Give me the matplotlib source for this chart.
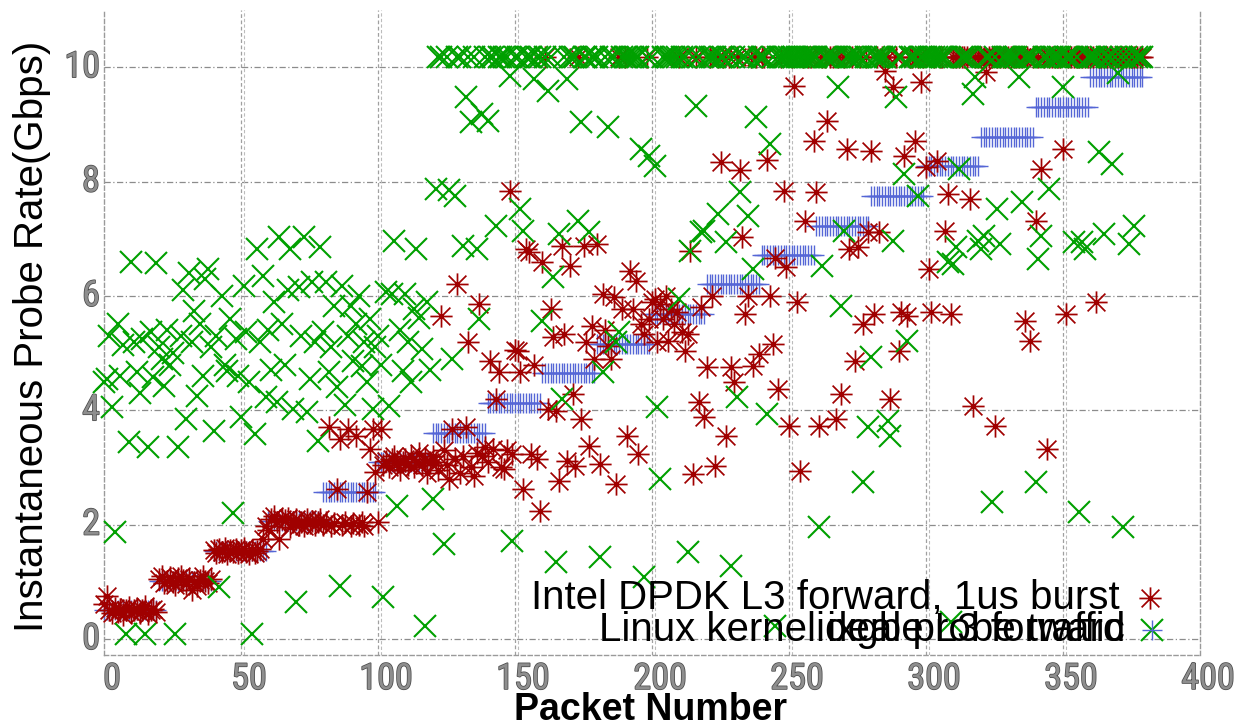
import numpy as np
import matplotlib
matplotlib.use("Agg")
import matplotlib.pyplot as plt
from matplotlib.path import Path
from matplotlib import transforms
import matplotlib.patheffects as pe

plt.rcParams['font.family'] = ['Liberation Sans', 'DejaVu Sans']

S = 10.17  # saturated (line-rate) reading

# probe trains: one sending rate (Gbps) per train of 20 packets
train_rates = [0.50, 1.02, 1.54, 2.06, 2.57, 3.09, 3.61, 4.13, 4.65, 5.16,
               5.68, 6.20, 6.72, 7.23, 7.75, 8.27, 8.78, 9.30, 9.82]
packets_per_train = 20

# Intel DPDK L3 forward, 1us burst: instantaneous rate per packet
dpdk_rate = [
    0.62, 0.75, 0.50, 0.45, 0.55, 0.48, 0.52, 0.42, 0.50, 0.56, 0.47, 0.50, 0.53, 0.45, 0.50, 0.58, 0.44, 0.50, 0.52, 0.48,
    1.05, 1.10, 0.98, 1.02, 1.08, 1.00, 0.95, 1.06, 1.10, 1.03, 0.97, 1.05, 0.85, 1.00, 0.93, 1.04, 1.10, 1.02, 0.98, 1.05,
    1.55, 1.50, 1.58, 1.52, 1.60, 1.48, 1.55, 1.53, 1.57, 1.50, 1.55, 1.60, 1.52, 1.48, 1.56, 1.50, 1.54, 1.58, 1.75, 1.98,
    1.90, 2.10, 2.15, 2.05, 1.75, 2.10, 2.08, 2.12, 1.95, 2.05, 2.10, 2.00, 2.05, 1.98, 2.10, 2.02, 2.06, 2.00, 2.04, 2.10,
    2.00, 2.05, 3.70, 1.98, 2.02, 2.62, 3.50, 2.00, 2.05, 3.67, 1.97, 2.03, 3.55, 2.00, 2.05, 1.98, 2.57, 3.32, 3.67, 2.92,
    2.05, 3.67, 3.05, 3.12, 3.00, 3.15, 3.20, 3.08, 2.95, 3.10, 3.15, 3.05, 3.20, 3.00, 3.10, 3.25, 3.05, 3.15, 2.90, 3.10,
    3.20, 3.10, 2.95, 5.65, 3.30, 3.05, 2.80, 3.67, 3.15, 6.20, 2.90, 3.20, 3.70, 5.20, 3.00, 2.85, 3.25, 5.86, 3.20, 3.35,
    3.10, 4.86, 3.32, 4.20, 4.67, 3.00, 2.97, 3.30, 7.83, 3.23, 5.05, 5.03, 4.67, 2.62, 6.82, 6.76, 3.23, 4.80, 3.15, 2.24,
    6.59, S,    4.02, 5.77, 5.28, 3.99, 2.76, 6.87, 5.33, 3.11, 6.52, 4.28, 3.02, S,    3.85, 6.87, 5.19, 3.38, 5.47, 4.90,
    6.90, 3.06, 6.03, 5.40, 5.12, 4.90, 5.98, 2.71, S,    5.77, S,    3.55, 6.43, 5.77, 6.26, 3.23, 5.50, 5.33, S,    5.60,
    5.90, 5.94, 5.19, 5.86, 5.60, 6.00, 5.21, 5.77, 5.50, 5.72, S,    5.37, 5.03, 5.33, 6.78, 2.88, S,    4.14, 5.80, 3.88,
    4.75, S,    6.00, 3.02, S,    8.34, S,    3.55, S,    4.75, 4.49, S,    8.20, 7.03, 5.68, 6.00, S,    4.78, S,    4.98,
    S,    S,    8.37, 6.00, 5.16, 6.66, 4.37, S,    7.83, 6.50, 3.72, S,    9.67, 5.89, 2.94, S,    7.31, S,    S,    8.71,
    7.81, 3.72, S,    S,    9.06, S,    S,    3.85, S,    4.28, S,    8.57, 6.82, S,    4.86, 6.85, S,    5.50, S,    7.11,
    8.53, 5.68, S,    7.11, S,    9.93, S,    4.20, 9.65, S,    5.03, 5.72, 8.45, 5.65, S,    S,    8.71, S,    9.74, S,
    8.25, 6.47, 5.72, S,    8.36, S,    S,    7.13, 7.78, 5.68, S,    S,    S,    S,    S,    S,    7.69, 4.07, S,    S,
    S,    S,    9.91, S,    S,    3.72, S,    S,    S,    S,    S,    S,    S,    S,    S,    S,    5.56, S,    5.21, S,
    7.31, S,    8.22, S,    3.32, S,    S,    S,    S,    S,    8.57, 5.68, S,    S,    S,    S,    S,    S,    S,    S,
    S,    S,    5.89, S,    S,    S,    S,    S,    S,    S,    S,    S,    S,    S,    S,    S,    S,    S,    S,    S,
]

# Linux kernel ixgbe L3 forward: instantaneous rate per packet
kernel_rate = [
    4.50, 4.55, 5.30, 4.06, 1.87, 5.50, 4.60, 5.15, 0.09, 3.44, 6.60, 5.20, 4.67, 4.30, 5.25, 0.09, 3.36, 5.37, 4.58, 6.57,
    5.10, 4.90, 4.43, 5.40, 4.80, 5.00, 0.09, 3.36, 5.30, 6.10, 3.85, 6.40, 5.20, 5.73, 4.25, 5.50, 4.60, 6.30, 6.47, 5.10,
    3.64, 5.30, 0.91, 6.00, 4.80, 4.69, 5.60, 2.20, 5.25, 4.60, 3.88, 6.17, 5.37, 4.50, 0.09, 3.58, 6.82, 5.20, 6.35, 4.23,
    5.40, 4.70, 5.90, 4.14, 7.03, 5.50, 4.80, 6.10, 6.82, 4.02, 0.64, 6.15, 5.30, 7.03, 3.97, 4.55, 6.24, 5.20, 3.46, 6.85,
    5.37, 6.24, 4.67, 5.10, 5.82, 4.40, 0.93, 6.17, 4.10, 5.30, 5.82, 4.86, 5.50, 6.00, 4.78, 5.20, 4.50, 5.60, 4.02, 5.10,
    5.30, 4.80, 0.73, 6.07, 4.07, 6.03, 6.96, 2.33, 5.40, 4.69, 6.03, 5.20, 4.49, 5.77, 6.82, 5.62, 5.07, 0.23, 5.90, 4.70,
    2.45, 7.87, S,    S,    1.66, S,    7.85, 4.90, 7.75, S,    S,    6.88, 9.48, S,    9.04, S,    6.82, 5.60, 9.18, S,
    9.06, S,    S,    7.23, S,    S,    S,    S,    9.85, 1.71, S,    S,    7.52, 7.14, S,    S,    S,    9.79, S,    S,
    5.56, S,    9.59, S,    6.33, 1.34, 7.08, 4.20, S,    9.79, S,    S,    S,    7.31, 9.04, S,    S,    7.11, S,    S,
    S,    1.43, 4.67, S,    8.95, S,    S,    5.19, 5.37, S,    S,    S,    S,    S,    S,    S,    8.57, 1.08, S,    8.45,
    S,    8.27, 4.06, 2.80, S,    S,    S,    S,    S,    S,    5.94, S,    S,    1.52, 6.79, S,    9.32, S,    7.11, 7.14,
    S,    S,    S,    S,    7.43, S,    S,    6.94, S,    1.28, S,    4.23, 7.81, S,    S,    7.40, S,    6.47, 9.13, S,
    S,    S,    3.93, 8.65, S,    0.23, S,    S,    S,    S,    S,    S,    S,    S,    S,    S,    S,    S,    S,    S,
    S,    1.96, 6.53, S,    S,    S,    S,    S,    9.65, 5.83, 7.14, S,    S,    S,    S,    S,    S,    2.74, S,    3.70,
    4.93, S,    S,    S,    S,    S,    3.81, 3.55, 6.96, 9.47, S,    S,    8.13, 5.22, S,    S,    S,    7.75, S,    S,
    S,    S,    S,    S,    S,    S,    S,    S,    6.60, 0.30, 6.55, 6.85, 8.22, S,    S,    S,    S,    9.53, 9.82, 6.96,
    6.82, 7.05, S,    S,    2.39, S,    7.52, 6.91, S,    S,    S,    S,    S,    S,    9.82, 7.64, S,    S,    S,    S,
    2.74, 6.64, 7.05, S,    S,    7.87, S,    S,    S,    S,    9.65, S,    S,    S,    6.94, S,    2.22, 6.94, 6.82, S,
    S,    S,    S,    8.51, S,    7.08, S,    S,    8.30, S,    9.90, S,    1.96, S,    6.91, S,    7.22, S,    S,    S,
]

x_ticks = [0, 50, 100, 150, 200, 250, 300, 350, 400]
y_ticks = [0, 2, 4, 6, 8, 10]
legend_labels = ["Intel DPDK L3 forward, 1us burst",
                 "Linux kernel ixgbe L3 forward",
                 "ideal probe traffic"]

RED = "#a00000"
GREEN = "#00a000"
BLUE = "#5566d6"
GRID = "#8c8c8c"

W, H = 1239, 721
fig = plt.figure(figsize=(W / 100, H / 100), dpi=100)
ax = fig.add_axes([104 / W, 1 - 655 / H, 1096 / W, 645 / H])

probe_rate = np.repeat(train_rates, packets_per_train)
pkt = np.arange(len(probe_rate))

M, L = Path.MOVETO, Path.LINETO
asterisk = Path([(-1, 0), (1, 0), (0, -1), (0, 1),
                 (-0.8, -0.8), (0.8, 0.8), (-0.8, 0.8), (0.8, -0.8)],
                [M, L] * 4)

ax.plot(pkt, probe_rate, ls="none", marker="+", ms=14.5, mew=1.0,
        color=BLUE, zorder=3, clip_on=False)
ax.plot(pkt, dpdk_rate, ls="none", marker=asterisk, ms=16, mew=1.25,
        mec=RED, mfc="none", zorder=4, clip_on=False)
ax.plot(pkt, kernel_rate, ls="none", marker="x", ms=16, mew=1.5,
        color=GREEN, zorder=5, clip_on=False)

ax.set_xlim(0, 400)
ax.set_ylim(-0.28, 11.0)

# grid
for yt in y_ticks:
    ax.axhline(yt, color=GRID, lw=0.9, dashes=(5, 2, 1, 2), zorder=1)
xgrid_tr = ax.get_xaxis_transform()
xgrid_tr2 = xgrid_tr + transforms.ScaledTranslation(3 / 100, 0, fig.dpi_scale_trans)
for xt in x_ticks[1:-1]:
    ax.plot([xt, xt], [0, 1], transform=xgrid_tr, color="#a0a0a0",
            lw=0.9, dashes=(3, 2), zorder=1)
    ax.plot([xt, xt], [0, 1], transform=xgrid_tr2, color="#bcbcbc",
            lw=0.8, dashes=(3, 2), zorder=1)

ax.spines["top"].set_visible(False)
for side in ("left", "bottom", "right"):
    ax.spines[side].set_color("#9a9a9a")
    ax.spines[side].set_linestyle((0, (3, 2)))
    ax.spines[side].set_linewidth(1.0)
ax.set_xticks([])
ax.set_yticks([])

# embossed tick labels
tick_font = ["Liberation Sans Narrow", "DejaVu Sans Condensed",
             "Roboto Condensed", "Liberation Sans", "DejaVu Sans"]
emboss = [pe.Stroke(linewidth=1.1, foreground="#4a4a4a"), pe.Normal()]
xlab_tr = transforms.offset_copy(ax.get_xaxis_transform(), fig=fig,
                                 x=8, y=-6, units="dots")
for xt in x_ticks:
    ax.text(xt, 0, str(xt), transform=xlab_tr, ha="center", va="top",
            fontsize=26, color="#8e8e8e", family=tick_font,
            path_effects=emboss, clip_on=False)
ylab_tr = transforms.offset_copy(ax.get_yaxis_transform(), fig=fig,
                                 x=-4, y=0, units="dots")
for yt in y_ticks:
    ax.text(0, yt, str(yt), transform=ylab_tr, ha="right", va="center",
            fontsize=26, color="#8e8e8e", family=tick_font,
            path_effects=emboss, clip_on=False)

fig.text(32 / W, 1 - 336 / H, "Instantaneous Probe Rate(Gbps)",
         rotation=90, ha="center", va="center", fontsize=29, color="black")
fig.text(651 / W, 1 - 692 / H, "Packet Number", ha="center", va="top",
         fontsize=27, fontweight="bold", color="black")

# key, bottom right
def frac(px, py):
    return (px - 104) / 1096, (655 - py) / 645

tx, ty = frac(1120, 598)
ax.text(tx, ty, legend_labels[0], transform=ax.transAxes, ha="right",
        va="center", fontsize=29, color="black", zorder=6)
mx, my = frac(1150, 598)
ax.plot([mx], [my], transform=ax.transAxes, ls="none", marker=asterisk,
        ms=16, mew=1.25, mec=RED, mfc="none", clip_on=False, zorder=6)

tx, ty = frac(1125, 630)
for lab in legend_labels[1:]:
    ax.text(tx, ty, lab, transform=ax.transAxes, ha="right", va="center",
            fontsize=29, color="black", zorder=6)
mx, my = frac(1152, 630)
ax.plot([mx], [my], transform=ax.transAxes, ls="none", marker="x",
        ms=16, mew=1.5, color=GREEN, clip_on=False, zorder=6)
ax.plot([mx], [my], transform=ax.transAxes, ls="none", marker="+",
        ms=14.5, mew=1.0, color=BLUE, clip_on=False, zorder=7)

fig.savefig("out.png", dpi=100)
